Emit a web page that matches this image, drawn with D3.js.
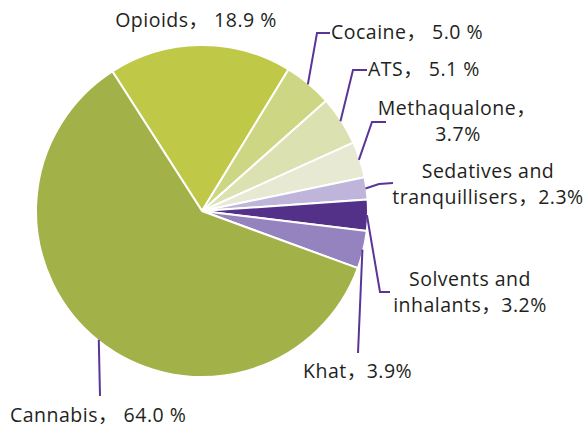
<!DOCTYPE html>
<html><head><meta charset="utf-8">
<script src="https://cdn.jsdelivr.net/npm/d3@7"></script>
<style>body{margin:0;background:#fff}svg{display:block}</style>
</head><body>
<svg id="c" width="584" height="428"></svg>
<script>
const categories = ["Opioids","Cocaine","ATS","Methaqualone","Sedatives and tranquillisers","Solvents and inhalants","Khat","Cannabis"];
const values = [18.9, 5.0, 5.1, 3.7, 2.3, 3.2, 3.9, 64.0];
const labelLines = [
  ["Opioids， 18.9 %"],
  ["Cocaine， 5.0 %"],
  ["ATS， 5.1 %"],
  ["Methaqualone，","3.7%"],
  ["Sedatives and","tranquillisers，2.3%"],
  ["Solvents and","inhalants，3.2%"],
  ["Khat，3.9%"],
  ["Cannabis， 64.0 %"]
];
const colors = ["#bfc847","#cdd682","#dbe1b1","#e8e9d3","#bfb5da","#533189","#9583bf","#a3b248"];

const svg = d3.select("#c");
const cx = 202, cy = 211, R = 166;
const g = svg.append("g").attr("transform", `translate(${cx},${cy})`);
const startA = -32.7 * Math.PI / 180;
const pie = d3.pie().sort(null).value(d => d).startAngle(startA).endAngle(startA + 2 * Math.PI);
const arcs = pie(values);
const arc = d3.arc().innerRadius(0).outerRadius(R);

g.selectAll("path.s").data(arcs).join("path").attr("class","s")
  .attr("d", arc).attr("fill", (d,i) => colors[i])
  .attr("stroke", "#fff").attr("stroke-width", 2).attr("stroke-linejoin","round");

const layout = [
  {pts:null, tx:[196], ty:[27], anchor:"middle"},
  {pts:[[317,33],[330,33]], tx:[331], ty:[39], anchor:"start"},
  {pts:[[353,70],[367,70]], tx:[368], ty:[76], anchor:"start"},
  {pts:[[372,122],[386,122]], tx:[457,458], ty:[115,141], anchor:"middle"},
  {pts:[[379,184],[393,183]], tx:[488,488], ty:[178,204], anchor:"middle"},
  {pts:[[380,292],[390,292]], tx:[470,470], ty:[286,312], anchor:"middle"},
  {pts:[[358,353]], tx:[303], ty:[378], anchor:"start"},
  {pts:[[100,396]], tx:[10], ty:[422], anchor:"start"}
];

arcs.forEach((d,i) => {
  const L = layout[i];
  if (L.pts) {
    const m = (d.startAngle + d.endAngle) / 2;
    const r0 = R - 1;
    const p0 = [cx + r0 * Math.sin(m), cy - r0 * Math.cos(m)];
    const pts = [p0].concat(L.pts);
    svg.append("path").attr("d", d3.line()(pts)).attr("fill","none")
      .attr("stroke","#5b3596").attr("stroke-width",2);
  }
  labelLines[i].forEach((t,k) => {
    svg.append("text").attr("x", L.tx[k]).attr("y", L.ty[k])
      .attr("text-anchor", L.anchor)
      .attr("font-family","'Open Sans', 'Noto Sans CJK SC', sans-serif")
      .attr("font-size", 19.5).attr("letter-spacing", 0.5)
      .attr("fill","#231f20").text(t);
  });
});
</script>
</body></html>
